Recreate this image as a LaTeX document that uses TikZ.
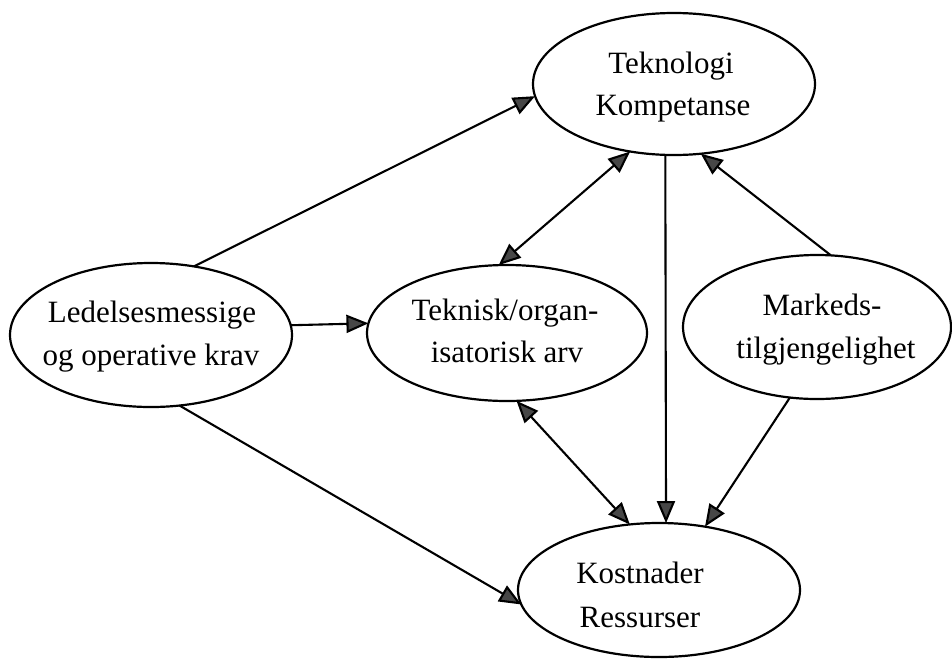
\documentclass[tikz,border=0pt]{standalone}
\usepackage{fontspec}
\setmainfont{Liberation Serif}
\usetikzlibrary{arrows.meta,shapes.geometric}
\begin{document}
\begin{tikzpicture}[x=1pt,y=-1pt,
  oval/.style={draw=black,line width=2.2pt,ellipse,inner sep=0pt,outer sep=0pt},
  lbl/.style={anchor=base,inner sep=0pt,font=\fontsize{31}{43}\selectfont},
  conn/.style={draw=black,line width=2.1pt,-{Triangle[length=22pt,width=18pt,fill=black!72]}},
  bconn/.style={draw=black,line width=2.1pt,{Triangle[length=22pt,width=18pt,fill=black!72]}-{Triangle[length=22pt,width=18pt,fill=black!72]}}]
\useasboundingbox[fill=white] (0,0) rectangle (952,662);
% ellipses
\node[oval,minimum width=282pt,minimum height=142pt] (T) at (674,84) {};
\node[oval,minimum width=282pt,minimum height=144pt] (L) at (151,335) {};
\node[oval,minimum width=280pt,minimum height=136pt] (M) at (507,333) {};
\node[oval,minimum width=268pt,minimum height=144pt] (R) at (817,327) {};
\node[oval,minimum width=282pt,minimum height=134pt] (B) at (659,590) {};
% texts
\node[lbl] (t1) at (671,73) {Teknologi};
\node[lbl] (t2) at (673,115) {Kompetanse};
\node[lbl] (l1) at (152,322) {Ledelsesmessige};
\node[lbl] (l2) at (151,365) {og operative krav};
\node[lbl] (m1) at (505,320) {Teknisk/organ-};
\node[lbl] (m2) at (507,362) {isatorisk arv};
\node[lbl] (r1) at (822,315) {Markeds-};
\node[lbl] (r2) at (826,358) {tilgjengelighet};
\node[lbl] (b1) at (640,583) {Kostnader};
\node[lbl] (b2) at (640,627) {Ressurser};
% connectors
\draw[conn] (L.58.6) -- (T.185.2);
\draw[conn] (L.4.5) -- (M.176.5);
\draw[conn] (L.-68) -- (B.186);
\draw[bconn] (M.97) -- (T.237.2);
\draw[conn] (T.263.6) -- (B.84);
\draw[conn] (R.79.8) -- (T.291.7);
\draw[bconn] (M.278.2) -- (B.114.5);
\draw[conn] (R.249.7) -- (B.54.8);
\end{tikzpicture}
\end{document}
